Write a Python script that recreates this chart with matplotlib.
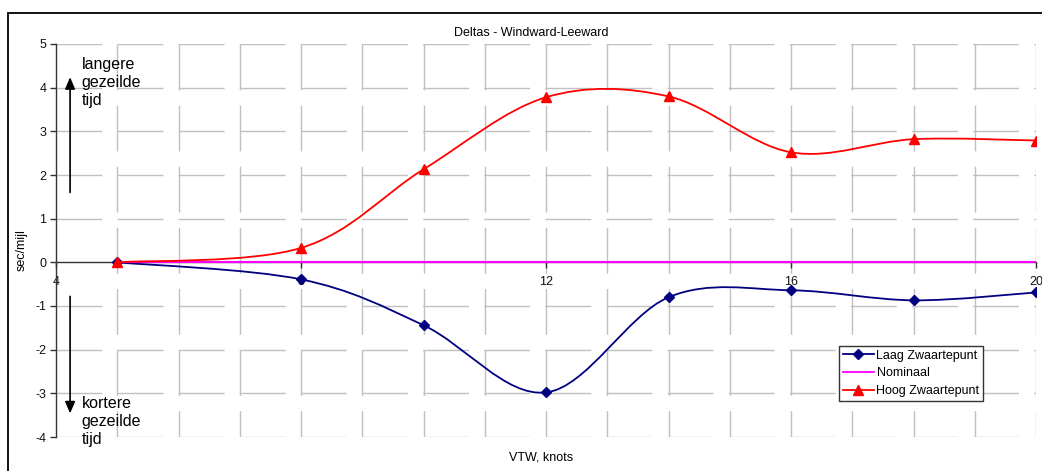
import numpy as np
import matplotlib
matplotlib.use('Agg')
import matplotlib.pyplot as plt
from matplotlib.path import Path
from matplotlib.patches import PathPatch, Rectangle
from matplotlib.lines import Line2D

plt.rcParams['font.family'] = ['Liberation Sans', 'DejaVu Sans']
plt.rcParams['lines.scale_dashes'] = False

# ---- data ----
vtw = [5, 8, 10, 12, 14, 16, 18, 20]
laag = [0.0, -0.39, -1.44, -2.98, -0.80, -0.64, -0.87, -0.69]
hoog = [0.0, 0.33, 2.13, 3.78, 3.80, 2.52, 2.82, 2.79]
nominaal = [0, 0, 0, 0, 0, 0, 0, 0]
x_ticks = [4, 8, 12, 16, 20]
y_ticks = [-4, -3, -2, -1, 0, 1, 2, 3, 4, 5]
series_names = ['Laag Zwaartepunt', 'Nominaal', 'Hoog Zwaartepunt']

NAVY = '#000080'
RED = '#FF0000'
MAG = '#FF00FF'
GRID = '#C0C0C0'


def smooth_path(x, y):
    """Excel-like smoothed line: cubic Bezier segments (Catmull-Rom control points)."""
    pts = np.column_stack([x, y]).astype(float)
    n = len(pts)
    verts = [pts[0]]
    codes = [Path.MOVETO]
    for i in range(n - 1):
        p0 = pts[i - 1] if i > 0 else pts[i]
        p1 = pts[i]
        p2 = pts[i + 1]
        p3 = pts[i + 2] if i + 2 < n else pts[i + 1]
        c1 = p1 + (p2 - p0) / 6.0
        c2 = p2 - (p3 - p1) / 6.0
        verts += [c1, c2, p2]
        codes += [Path.CURVE4] * 3
    return Path(verts, codes)


fig = plt.figure(figsize=(10.42, 4.71), dpi=100)
W, H = 1042.0, 471.0
ax = fig.add_axes([56 / W, 34 / H, 980 / W, 393 / H])
ax.set_xlim(4, 20)
ax.set_ylim(-4, 5)

# grid (dashed, Excel-like)
dash = (0, (33, 11))
for xv in np.arange(5, 21):
    ax.plot([xv, xv], [5, -4], color=GRID, lw=1.0, linestyle=dash, zorder=0.5)
for yv in y_ticks:
    if yv == 0:
        continue
    ax.plot([4, 20], [yv, yv], color=GRID, lw=1.0, linestyle=dash, zorder=0.5)

# spines
for s in ['top', 'right']:
    ax.spines[s].set_visible(False)
ax.spines['bottom'].set_position(('data', 0))
ax.spines['bottom'].set_color('#333333')
ax.spines['left'].set_color('#333333')
ax.spines['bottom'].set_linewidth(1.0)
ax.spines['left'].set_linewidth(1.0)

ax.set_xticks(x_ticks)
ax.set_xticklabels([str(v) for v in x_ticks])
ax.set_yticks(y_ticks)
ax.set_yticklabels([str(v) for v in y_ticks])
ax.tick_params(axis='both', direction='out', length=4, width=1.0, color='#333333',
               labelsize=9, labelcolor='#111111')
ax.tick_params(axis='x', pad=6)
ax.tick_params(axis='y', pad=3)

# series
ax.add_patch(PathPatch(smooth_path(vtw, laag), fill=False, edgecolor=NAVY, lw=1.3, zorder=3))
ax.plot(vtw, laag, linestyle='none', marker='D', ms=5.5, color=NAVY, zorder=3.1)
ax.plot(vtw, nominaal, color=MAG, lw=1.5, zorder=3.2)
ax.add_patch(PathPatch(smooth_path(vtw, hoog), fill=False, edgecolor=RED, lw=1.3, zorder=3.3))
ax.plot(vtw, hoog, linestyle='none', marker='^', ms=6.5, color=RED, zorder=3.4)

# annotations
ap = dict(arrowstyle='-|>,head_length=0.7,head_width=0.3', lw=1.2, color='black',
          shrinkA=0, shrinkB=0)
ax.annotate('', xy=(4.23, 4.24), xytext=(4.23, 1.60), arrowprops=ap, annotation_clip=False)
ax.annotate('', xy=(4.23, -3.46), xytext=(4.23, -0.78), arrowprops=ap, annotation_clip=False)
ax.text(4.42, 4.12, 'langere\ngezeilde\ntijd', fontsize=11.5, ha='left', va='center',
        linespacing=1.25, clip_on=False, zorder=5)
ax.text(4.42, -3.64, 'kortere\ngezeilde\ntijd', fontsize=11.5, ha='left', va='center',
        linespacing=1.25, clip_on=False, zorder=5)

# titles / labels
fig.text(531 / W, 1 - 33 / H, 'Deltas - Windward-Leeward', fontsize=9, ha='center', va='center')
fig.text(541 / W, 1 - 457 / H, 'VTW, knots', fontsize=9, ha='center', va='center')
fig.text(22 / W, 1 - 250 / H, 'sec/mijl', fontsize=9, ha='center', va='center', rotation=90)

# legend
handles = [
    Line2D([], [], color=NAVY, lw=1.3, marker='D', ms=5.5),
    Line2D([], [], color=MAG, lw=1.3),
    Line2D([], [], color=RED, lw=1.3, marker='^', ms=6.5),
]
leg = fig.legend(handles, series_names, loc='upper left',
                 bbox_to_anchor=(839 / W, 1 - 346 / H), fontsize=9,
                 frameon=True, fancybox=False, framealpha=1, edgecolor='#333333',
                 handlelength=2.5, handletextpad=0.2, borderpad=0.3,
                 labelspacing=0.45, borderaxespad=0)
leg.get_frame().set_linewidth(1.0)

# outer chart border
fig.patches.append(Rectangle((8 / W, -0.05), 1.1, (1 - 13 / H) + 0.05,
                             transform=fig.transFigure, fill=False,
                             edgecolor='black', lw=1.3))

fig.savefig('out.png', dpi=100)
